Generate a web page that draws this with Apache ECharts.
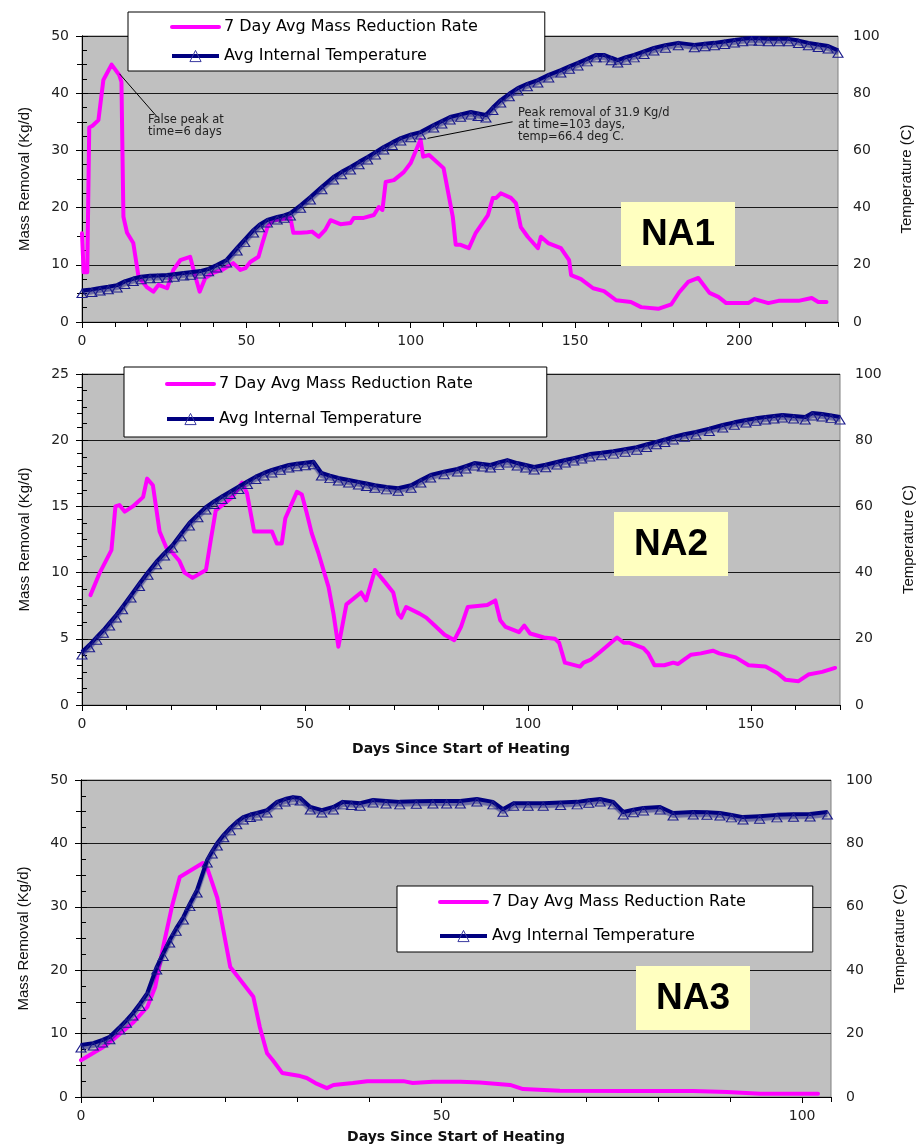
<!DOCTYPE html>
<html>
<head>
<meta charset="utf-8">
<script src="https://cdn.jsdelivr.net/npm/echarts@6/dist/echarts.min.js"></script>
<style>
  html, body { margin: 0; padding: 0; background: #fff; }
  #chart { width: 924px; height: 1147px; }
</style>
</head>
<body>
<div id="chart"></div>
<script>
// Series names
const MASS = '7 Day Avg Mass Reduction Rate';
const TEMP = 'Avg Internal Temperature';

// NA1: [day, kg/d] and [day, deg C]
const na1Mass = [[0,15.5],[0.5,8.7],[1.6,8.7],[2.2,34],[3.2,34.3],[5,35.3],[6.5,42.3],[9,45],[11.3,43.2],[12,42],[12.6,18.4],[13.7,15.6],[15.6,13.8],[17.2,7.9],[19.7,6.1],[21.7,5.3],[23.3,6.5],[25.9,5.9],[27.8,9.1],[29.9,10.8],[32.9,11.4],[34.5,7.9],[35.8,5.3],[37.5,7.7],[40,8.6],[42.6,9.1],[46,10.3],[48.2,9.1],[49.7,9.4],[51.2,10.5],[53.7,11.4],[54.9,13.8],[56.4,16.6],[58.2,17.8],[63.4,18.2],[64.3,15.6],[66.5,15.6],[68.6,15.7],[70,15.8],[72,14.9],[74,16.1],[75.6,17.8],[78.6,17.1],[81.7,17.3],[82.7,18.2],[85.7,18.2],[88.8,18.7],[90.3,20.1],[91.4,19.6],[92.4,24.5],[94.9,24.8],[97.9,26.2],[100,27.8],[103,31.9],[103.8,28.9],[105.6,29.2],[110,26.9],[112.8,18.4],[113.7,13.5],[115.2,13.5],[117.7,12.9],[119.8,15.6],[123.5,18.7],[125,21.7],[126,21.7],[127.4,22.5],[130.5,21.7],[132,20.8],[133.5,16.6],[135.6,14.9],[138.7,12.9],[139.6,14.9],[141.8,13.8],[145.7,12.9],[148.2,10.8],[148.8,8.2],[151.8,7.5],[155.5,5.9],[158.8,5.4],[162.5,3.8],[167,3.5],[170.1,2.6],[175.3,2.3],[179.3,3.1],[181.7,5.2],[184.4,7.0],[187.5,7.7],[190.9,5.1],[193.6,4.4],[196,3.3],[202.7,3.3],[204.6,4.0],[208.8,3.3],[211.9,3.7],[218,3.7],[222,4.2],[224,3.5],[226.5,3.5]];
const na1Temp = [[0,11],[3,11.4],[5.5,11.9],[8,12.3],[10.7,12.9],[13,14.2],[15.6,15.2],[18,15.8],[20.7,16.2],[23,16.3],[25.9,16.4],[28,16.7],[30.9,17.1],[33,17.4],[36,17.8],[38.5,18.6],[41,19.9],[44,21.7],[47.2,25.9],[49.5,28.8],[52.2,32.2],[54,34],[56.4,35.7],[59.4,36.7],[61.5,37.3],[63.4,38.1],[66.5,40.8],[69.5,43.7],[73,47.3],[76.5,50.7],[79,52.5],[81.7,54.2],[84.3,56],[86.9,57.7],[89.3,59.4],[91.8,61.2],[94.4,62.8],[97,64.3],[100,65.5],[103,66.4],[107,68.9],[109.5,70.3],[112,71.7],[115.2,72.6],[118.3,73.4],[120.5,72.9],[122.9,72.4],[125,75],[127.4,77.6],[130,79.8],[132.6,81.8],[135.5,83.3],[138.7,84.6],[142,86.4],[145.7,88.1],[148.3,89.4],[150.9,90.6],[153.7,92],[156.4,93.4],[158.8,93.4],[161,92.4],[163,91.6],[165.5,92.6],[168,93.4],[171,94.6],[174,95.8],[177.5,96.8],[181.4,97.6],[186.3,96.9],[189.5,97.3],[192.4,97.6],[195.5,98.1],[198.5,98.6],[201,99],[203.7,99.3],[206,99.2],[208.8,99],[212,99],[215,99],[218,98.4],[221,97.6],[224,97],[227,96.5],[230,95]];

// NA2
const na2Mass = [[1.9,8.3],[4,10.0],[6.6,11.7],[7.5,15.0],[8.4,15.1],[9.6,14.6],[11.4,15.0],[13.7,15.7],[14.6,17.1],[15.9,16.6],[17.4,13.1],[18.9,11.9],[20.3,11.5],[21.8,10.9],[23,10.0],[24.8,9.6],[27.8,10.2],[28.9,12.5],[30,14.7],[33.7,15.7],[35.9,16.8],[37,16.0],[38.6,13.1],[42.6,13.1],[43.7,12.2],[44.8,12.2],[45.6,14.1],[48.2,16.1],[49.3,15.9],[50.4,14.5],[51.5,13.0],[53,11.5],[55.3,8.9],[56.4,6.9],[57.5,4.4],[59.3,7.6],[62.6,8.5],[63.7,7.9],[65.7,10.2],[67.9,9.3],[69.8,8.5],[70.9,6.9],[71.6,6.6],[72.7,7.4],[75.7,6.9],[77.2,6.6],[79.1,6.0],[81.3,5.3],[83.5,4.9],[85,5.9],[86.5,7.4],[90.9,7.55],[92.7,7.9],[93.8,6.4],[95,5.9],[98,5.5],[99.2,6.0],[100.5,5.4],[103.6,5.1],[106.1,5.0],[107,4.7],[108.3,3.2],[111.7,2.9],[112.5,3.2],[114,3.4],[116.2,4.0],[120,5.1],[121.5,4.7],[122.8,4.7],[125.9,4.3],[127,3.9],[128.4,3.0],[130.6,3.0],[132.6,3.2],[133.7,3.1],[136.6,3.8],[138.8,3.9],[141.5,4.1],[142.9,3.9],[146.6,3.6],[149.5,3.0],[153.3,2.9],[156,2.4],[157.8,1.9],[160.7,1.8],[162.9,2.3],[166,2.5],[168.9,2.8]];
const na2Temp = [[0,16.0],[1.7,18.2],[3.3,20.5],[4.8,22.6],[6.2,24.8],[7.7,27.2],[9.1,29.7],[11,33.2],[12.9,36.7],[14.8,40.1],[16.7,43.3],[18.5,45.9],[20.3,48.3],[22.2,51.7],[24.1,55],[26,57.5],[27.8,59.8],[29.6,61.5],[31.4,63.0],[33.3,64.5],[35.2,66.0],[37.1,67.5],[39,69.0],[40.8,70.1],[42.6,71.0],[44.5,71.8],[46.4,72.5],[48.2,72.9],[50.1,73.2],[51.9,73.5],[53.7,70.1],[55.6,69.3],[57.5,68.6],[59.8,68],[62,67.4],[63.8,66.9],[65.7,66.4],[68.3,65.9],[70.9,65.5],[73.8,66.4],[76,68],[78.2,69.5],[81.2,70.5],[84.2,71.3],[86.1,72.2],[88,73.1],[89.8,72.8],[91.6,72.5],[93.5,73.3],[95.4,74.0],[97.6,73.1],[99.5,72.5],[101.4,71.9],[104,72.6],[106.5,73.4],[108.4,74],[110.3,74.6],[112.1,75.2],[113.9,75.8],[116.5,76.2],[119.2,76.7],[121.8,77.3],[124.4,77.9],[126.6,78.7],[128.8,79.5],[130.7,80.2],[132.6,81],[135.1,81.8],[137.7,82.5],[140.7,83.5],[143.7,84.6],[146.3,85.4],[148.9,86.1],[151.1,86.6],[153.3,87.0],[155.2,87.3],[157.1,87.6],[159.6,87.3],[162.2,87.0],[163.8,88.2],[166,87.9],[168,87.5],[170,87.0]];

// NA3
const na3Mass = [[0,5.8],[3.1,7.9],[4.4,9.0],[7.2,11.7],[9.2,14.2],[10.3,17.4],[11.4,23.7],[12.6,30.0],[13.7,34.7],[16.9,36.9],[17.6,35.8],[18.9,31.4],[20.7,20.5],[23.9,15.8],[24.8,11.0],[25.8,6.9],[26.6,5.8],[27.9,3.8],[30.4,3.3],[31.3,3.0],[32.5,2.2],[34.1,1.4],[35,1.9],[37.7,2.2],[39.7,2.5],[44.7,2.5],[46,2.2],[48.8,2.4],[52.6,2.4],[55.3,2.3],[59.5,1.9],[61.3,1.25],[66.4,1.0],[75.7,0.95],[84.9,0.95],[89.6,0.8],[94.2,0.5],[98.8,0.5],[102.2,0.5]];
const na3Temp = [[0,16.4],[1.7,17.0],[3,18],[4,19.0],[5.4,22.1],[6.3,24.2],[7.2,26.5],[8.2,29.5],[9.2,32.8],[10.5,41.0],[11.4,45.3],[12.3,49.5],[13.2,53.2],[14.2,56.8],[15.1,61],[16.1,65.3],[17.5,74.8],[18.2,77.6],[18.9,80.1],[19.8,82.7],[20.7,84.9],[21.6,86.8],[22.5,88.3],[23.5,89.1],[24.4,89.6],[25.8,90.5],[27.2,93.1],[28.3,94],[29.4,94.6],[30.4,94.3],[31.8,91.5],[33.4,90.5],[35,91.5],[36.3,93.1],[37.5,92.9],[38.7,92.7],[40.5,93.7],[42.3,93.4],[44.2,93.1],[46.5,93.3],[48.8,93.4],[50.7,93.4],[52.6,93.4],[54.9,94],[57.1,93.1],[58.5,90.8],[60,92.7],[62,92.7],[64.1,92.7],[66.5,92.9],[68.8,93.1],[70.4,93.6],[72,94.0],[73.8,93.1],[75.2,89.9],[76.6,90.6],[78,91.2],[80.3,91.5],[82.1,89.6],[84.9,89.9],[86.8,89.8],[88.6,89.6],[90.2,89],[91.8,88.3],[94.1,88.6],[96.5,89.0],[98.8,89.2],[101.1,89.3],[103.5,89.9]];

// Axis ranges
const dayMax = [230, 170, 104];
const massMax = [50, 25, 50];
const massStep = [10, 5, 10];
const massMinorSplit = [2, 5, 2];
const tempMax = 100;
const X_TITLE = 'Days Since Start of Heating';
const Y_LEFT_TITLE = 'Mass Removal (Kg/d)';
const Y_RIGHT_TITLE = 'Temperature (C)';
const panelLabels = ['NA1', 'NA2', 'NA3'];

const TICK_FONT = 'DejaVu Sans';
const TITLE_FONT = "'Liberation Sans Narrow', 'Liberation Sans', Arial, sans-serif";
const NAVY = '#000080';
const MAGENTA = '#ff00ff';

const grids = [
  { left: 82, top: 36, width: 756, height: 286 },
  { left: 82, top: 374, width: 764, height: 331 },
  { left: 81, top: 780, width: 750, height: 317 }
];

const xAxes = [];
const yAxes = [];
const xTitleGap = [null, 37, 33];

grids.forEach((g, i) => {
  // main day axis with labels
  xAxes.push({
    type: 'value', gridIndex: i, min: 0, max: dayMax[i], interval: 50,
    axisLine: { show: true, onZero: false, lineStyle: { color: '#000', width: 1 } },
    axisTick: { show: true, length: 6, lineStyle: { color: '#000' } },
    axisLabel: { margin: 12, fontFamily: TICK_FONT, fontSize: 14, color: '#222', showMaxLabel: false },
    splitLine: { show: false },
    name: xTitleGap[i] ? X_TITLE : '',
    nameLocation: 'middle', nameGap: xTitleGap[i] || 0,
    nameTextStyle: { fontFamily: TICK_FONT, fontWeight: 'bold', fontSize: 14, color: '#111' }
  });
  // 10-day minor ticks
  xAxes.push({
    type: 'value', gridIndex: i, min: 0, max: dayMax[i], interval: 10, position: 'bottom',
    axisLine: { show: false }, axisLabel: { show: false }, splitLine: { show: false },
    axisTick: { show: true, length: 5, lineStyle: { color: '#000' } }
  });
  yAxes.push({
    type: 'value', gridIndex: i, position: 'left', min: 0, max: massMax[i], interval: massStep[i],
    axisLine: { show: true, lineStyle: { color: '#000' } },
    axisTick: { show: true, length: 6, lineStyle: { color: '#000' } },
    minorTick: { show: true, splitNumber: massMinorSplit[i], length: 5, lineStyle: { color: '#000' } },
    axisLabel: { margin: 13, fontFamily: TICK_FONT, fontSize: 14, color: '#222' },
    splitLine: { show: true, lineStyle: { color: '#1a1a1a', width: 1 } },
    name: Y_LEFT_TITLE, nameLocation: 'middle', nameGap: 50,
    nameTextStyle: { fontFamily: TITLE_FONT, fontSize: 15, color: '#111' }
  });
  yAxes.push({
    type: 'value', gridIndex: i, position: 'right', min: 0, max: tempMax, interval: 20,
    axisLine: { show: true, lineStyle: { color: '#000' } },
    axisTick: { show: true, length: 6, lineStyle: { color: '#000' } },
    minorTick: { show: true, splitNumber: 4, length: 5, lineStyle: { color: '#000' } },
    axisLabel: { margin: 15, fontFamily: TICK_FONT, fontSize: 14, color: '#222' },
    splitLine: { show: false },
    name: Y_RIGHT_TITLE, nameLocation: 'middle', nameGap: 61,
    nameTextStyle: { fontFamily: TITLE_FONT, fontSize: 15, color: '#111' }
  });
});

function massSeries(data, i, extra) {
  return Object.assign({
    name: MASS, type: 'line', data, xAxisIndex: i * 2, yAxisIndex: i * 2,
    showSymbol: false, symbol: 'none', z: 2,
    lineStyle: { color: MAGENTA, width: 4, join: 'round', cap: 'round' },
    itemStyle: { color: MAGENTA }
  }, extra || {});
}
function tempSeries(data, i) {
  return {
    name: TEMP, type: 'line', data, xAxisIndex: i * 2, yAxisIndex: i * 2 + 1,
    symbol: 'triangle', symbolSize: [10, 8], symbolOffset: [0, 3], showSymbol: true, z: 3,
    lineStyle: { color: NAVY, width: 4, join: 'round',
      shadowColor: 'rgba(0,0,128,0.45)', shadowBlur: 1, shadowOffsetY: 3 },
    itemStyle: { color: 'rgba(0,0,0,0)', borderColor: '#1c1c8c', borderWidth: 1.1 }
  };
}

// Arrows for the two NA1 call-outs
const na1Arrows = {
  silent: true, symbol: ['none', 'arrow'], symbolSize: [0, 9],
  lineStyle: { color: '#000', width: 1, type: 'solid', shadowBlur: 0, shadowOffsetY: 0 },
  label: { show: false }, emphasis: { disabled: true },
  data: [
    [{ coord: [22.8, 35.9] }, { coord: [11.4, 43.4] }],
    [{ coord: [131, 35.0] }, { coord: [105.1, 32.1] }]
  ]
};

const series = [
  massSeries(na1Mass, 0, { markLine: na1Arrows }), tempSeries(na1Temp, 0),
  massSeries(na2Mass, 1), tempSeries(na2Temp, 1),
  massSeries(na3Mass, 2), tempSeries(na3Temp, 2)
];

function legendBox(left, top, padding, gap) {
  return {
    orient: 'vertical', left, top, padding, itemGap: gap,
    itemWidth: 47, itemHeight: 14, selectedMode: false,
    backgroundColor: '#fff', borderColor: '#000', borderWidth: 1,
    data: [
      { name: MASS, itemStyle: { opacity: 0 }, lineStyle: { width: 4, color: MAGENTA } },
      { name: TEMP, itemStyle: { color: 'rgba(0,0,0,0)', borderColor: '#3a3aa0', borderWidth: 1 }, lineStyle: { width: 4, color: NAVY } }
    ],
    textStyle: { fontFamily: TICK_FONT, fontSize: 16, color: '#000' }
  };
}

const labelBoxes = [
  { x: 621, y: 202 }, { x: 614, y: 512 }, { x: 636, y: 966 }
];
const graphic = [];
labelBoxes.forEach((b, i) => {
  graphic.push({ type: 'rect', x: b.x, y: b.y, z: 20, shape: { width: 114, height: 64 }, style: { fill: '#ffffc0' } });
  graphic.push({ type: 'text', x: b.x + 57, y: b.y + 33, z: 21,
    style: { text: panelLabels[i], font: 'bold 37px "Liberation Sans", Arial, sans-serif', fill: '#000', align: 'center', verticalAlign: 'middle' } });
});
graphic.push({ type: 'text', x: 148, y: 114, z: 21,
  style: { text: 'False peak at\ntime=6 days', font: '11.5px "DejaVu Sans"', fill: '#222', lineHeight: 12 } });
graphic.push({ type: 'text', x: 518, y: 107, z: 21,
  style: { text: 'Peak removal of 31.9 Kg/d\nat time=103 days,\ntemp=66.4 deg C.', font: '11.5px "DejaVu Sans"', fill: '#222', lineHeight: 12 } });

const chart = echarts.init(document.getElementById('chart'), null, { renderer: 'canvas' });
chart.setOption({
  animation: false,
  backgroundColor: '#fff',
  grid: grids.map(g => Object.assign({ show: true, backgroundColor: '#c0c0c0', borderColor: '#808080', borderWidth: 1, containLabel: false }, g)),
  legend: [
    legendBox(128, 12, [7, 67, 7, 42], 13),
    legendBox(124, 367, [9, 74, 10, 41], 19),
    legendBox(397, 886, [8, 67, 8, 41], 18)
  ],
  xAxis: xAxes,
  yAxis: yAxes,
  series,
  graphic
});
</script>
</body>
</html>
